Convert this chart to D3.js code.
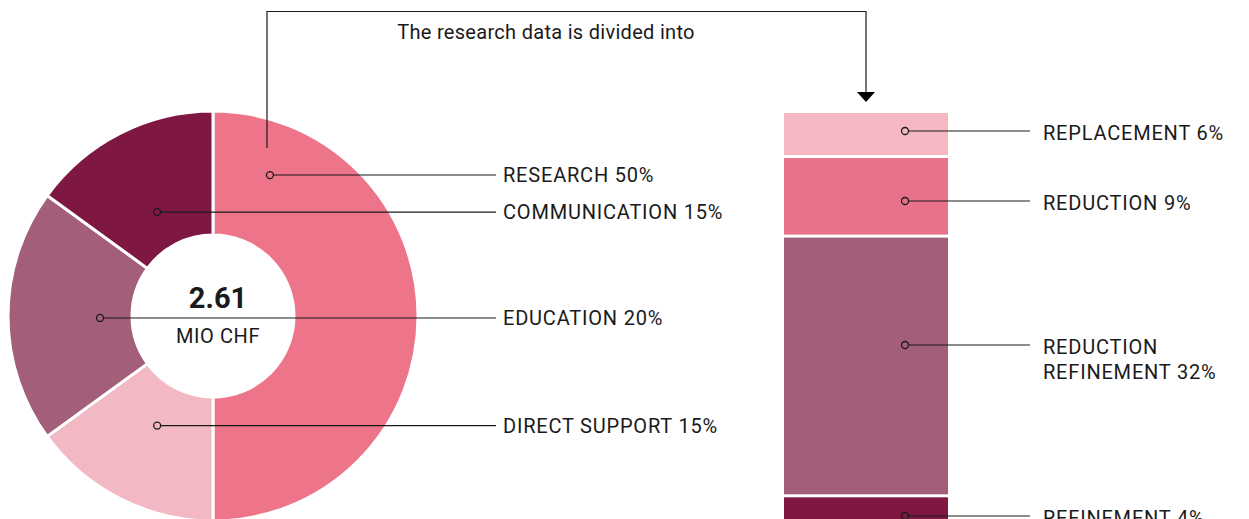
<!DOCTYPE html>
<html>
<head>
<meta charset="utf-8">
<script src="https://cdn.jsdelivr.net/npm/d3@7"></script>
<style>
  body { margin: 0; background: #fff; }
  text { font-family: Roboto, "Noto Sans", sans-serif; fill: #1a1a1a; }
</style>
</head>
<body>
<svg id="chart" width="1249" height="519"></svg>
<script>
// budget split (donut), clockwise from 12 o'clock
const budgetCategories = ["RESEARCH", "DIRECT SUPPORT", "EDUCATION", "COMMUNICATION"];
const budgetShares = [50, 15, 20, 15];
const budgetColors = ["#ed7489", "#f2b8c3", "#a35e79", "#7e1843"];
const totalValue = "2.61";
const totalUnit = "MIO CHF";

// research split (stacked bar), top to bottom
const researchCategories = [["REPLACEMENT"], ["REDUCTION"], ["REDUCTION", "REFINEMENT"], ["REFINEMENT"]];
const researchShares = [5.6, 9.9, 32.3, 4.2];
const researchLabels = [6, 9, 32, 4];
const researchColors = ["#f5b8c3", "#e8728a", "#a35e79", "#7e1843"];

const title = "The research data is divided into";

function drawChart(svgId) {
  let svg = d3.select(svgId);

  let cx = 213, cy = 316;
  let outerR = 205, innerR = 81;
  let pieLabelX = 503;

  // Donut
  let pie = d3.pie().sort(null).value(d => d);
  let arcs = pie(budgetShares);
  let arc = d3.arc().innerRadius(innerR).outerRadius(outerR);

  let g = svg.append("g").attr("transform", "translate(" + cx + "," + cy + ")");
  g.selectAll("path")
    .data(arcs)
    .enter()
    .append("path")
    .attr("d", arc)
    .attr("fill", (d, i) => budgetColors[i])
    .attr("stroke", "#fff")
    .attr("stroke-width", 3);

  // where the leader dot sits in each slice (angle in degrees, radius)
  let pieNotes = [[22, 152], [207, 123], [269, 113], [331.7, 118]];

  budgetCategories.forEach(function (name, i) {
    let p = d3.pointRadial(pieNotes[i][0] * Math.PI / 180, pieNotes[i][1]);
    let x = cx + p[0], y = cy + p[1];
    svg.append("line")
      .attr("x1", x + 3.5).attr("x2", pieLabelX - 7)
      .attr("y1", y).attr("y2", y)
      .attr("stroke", "#1a1a1a").attr("stroke-width", 1.1);
    svg.append("circle")
      .attr("cx", x).attr("cy", y).attr("r", 3.5)
      .attr("fill", "none").attr("stroke", "#1a1a1a").attr("stroke-width", 1.3);
    svg.append("text")
      .attr("x", pieLabelX).attr("y", y).attr("dy", "0.36em")
      .style("font-size", "20px").style("letter-spacing", "0.8px")
      .text(name + " " + budgetShares[i] + "%");
  });

  // centre total
  svg.append("text")
    .attr("x", cx + 5).attr("y", cy - 8)
    .attr("text-anchor", "middle")
    .style("font-size", "29px").style("font-weight", "bold")
    .text(totalValue);
  svg.append("text")
    .attr("x", cx + 5).attr("y", cy + 27)
    .attr("text-anchor", "middle")
    .style("font-size", "20px").style("letter-spacing", "0.6px")
    .text(totalUnit);

  // Stacked bar
  let barX = 784, barW = 164, barTop = 113;
  let yScale = d3.scaleLinear().domain([0, 1]).range([0, 8.04]);
  let stackTop = d3.cumsum([0].concat(researchShares)).slice(0, researchShares.length);

  svg.selectAll("bar")
    .data(researchShares)
    .enter()
    .append("rect")
    .attr("x", barX)
    .attr("y", (d, i) => barTop + yScale(stackTop[i]))
    .attr("width", barW)
    .attr("height", d => yScale(d) - 3)
    .attr("fill", (d, i) => researchColors[i]);

  let barDotX = barX + 121, barLabelX = 1043;
  let barNoteY = [131, 201, 345, 516];

  researchCategories.forEach(function (lines, i) {
    let y = barNoteY[i];
    svg.append("line")
      .attr("x1", barDotX + 3.5).attr("x2", barLabelX - 13)
      .attr("y1", y).attr("y2", y)
      .attr("stroke", "#1a1a1a").attr("stroke-width", 1.1);
    svg.append("circle")
      .attr("cx", barDotX).attr("cy", y).attr("r", 3.5)
      .attr("fill", "none").attr("stroke", "#1a1a1a").attr("stroke-width", 1.3);
    let t = svg.append("text")
      .attr("x", barLabelX).attr("y", y + 2).attr("dy", "0.36em")
      .style("font-size", "20px").style("letter-spacing", "0.8px");
    lines.forEach(function (line, j) {
      let last = j === lines.length - 1;
      t.append("tspan")
        .attr("x", barLabelX)
        .attr("dy", j === 0 ? "0.36em" : "1.22em")
        .text(last ? line + " " + researchLabels[i] + "%" : line);
    });
  });

  // connector arrow from research slice to the bar
  let arrowX = barX + 82;
  svg.append("path")
    .attr("d", "M267,148 V11.5 H" + arrowX + " V93")
    .attr("fill", "none").attr("stroke", "#1a1a1a").attr("stroke-width", 1.2);
  svg.append("path")
    .attr("d", "M" + (arrowX - 9) + ",92 L" + (arrowX + 9) + ",92 L" + arrowX + ",102 Z")
    .attr("fill", "#000");

  svg.append("text")
    .attr("x", 546).attr("y", 39)
    .attr("text-anchor", "middle")
    .style("font-size", "20px").style("letter-spacing", "0.3px")
    .text(title);
}

drawChart("#chart");
</script>
</body>
</html>
